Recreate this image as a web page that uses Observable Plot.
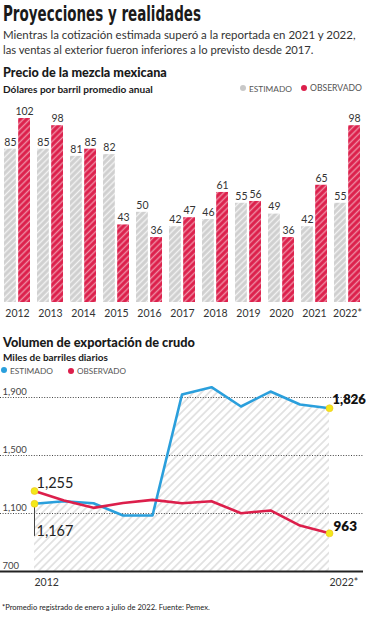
<!DOCTYPE html>
<html><head><meta charset="utf-8">
<script src="https://cdn.jsdelivr.net/npm/d3@7"></script>
<script src="https://cdn.jsdelivr.net/npm/@observablehq/plot@0.6"></script>
<style>
html,body{margin:0;padding:0;background:#fff}
body{width:366px;height:620px;position:relative;overflow:hidden;font-family:Lato,"Open Sans",sans-serif;color:#222}
.abs{position:absolute;white-space:nowrap}
.dot{display:inline-block;width:6px;height:6px;border-radius:50%;margin-right:3px;vertical-align:middle;position:relative;top:-1px}
#top,#bottom{position:absolute;left:0}
#top{top:95px}
#bottom{top:380px}
</style></head><body>
<svg width="0" height="0" style="position:absolute;left:0;top:0"><defs>
<pattern id="hatchGrey" patternUnits="userSpaceOnUse" width="4.5" height="4.5" patternTransform="rotate(45)">
<rect width="4.5" height="4.5" fill="#cfcfcf"/><line x1="2.25" y1="0" x2="2.25" y2="4.5" stroke="#fff" stroke-width="1.4" stroke-opacity="0.75"/></pattern>
<pattern id="hatchRed" patternUnits="userSpaceOnUse" width="4.5" height="4.5" patternTransform="rotate(45)">
<rect width="4.5" height="4.5" fill="#dc1f4b"/><line x1="2.25" y1="0" x2="2.25" y2="4.5" stroke="#fff" stroke-width="1.4" stroke-opacity="0.5"/></pattern>
<pattern id="hatchArea" patternUnits="userSpaceOnUse" width="5.5" height="5.5" patternTransform="rotate(45)">
<line x1="2.75" y1="0" x2="2.75" y2="5.5" stroke="#c4c4c4" stroke-width="0.9"/></pattern>
</defs></svg>
<div id="top"></div>
<div id="bottom"></div>
<script>
// ---- Data: precio de la mezcla mexicana ----
const years = ["2012","2013","2014","2015","2016","2017","2018","2019","2020","2021","2022*"];
const precioEstimado = [85, 85, 81, 82, 50, 42, 46, 55, 49, 42, 55];
const precioObservado = [102, 98, 85, 43, 36, 47, 61, 56, 36, 65, 98];

// ---- Data: volumen de exportación de crudo ----
const volYears = [2012, 2013, 2014, 2015, 2016, 2017, 2018, 2019, 2020, 2021, 2022];
const volYearLabels = ["2012", "2022*"];
const volEstimado = [1167, 1185, 1171, 1086, 1086, 1921, 1971, 1838, 1941, 1852, 1826];
const volObservado = [1255, 1190, 1139, 1172, 1194, 1171, 1185, 1102, 1121, 1017, 963];
const volTicks = [700, 1100, 1500, 1900];

const fmt = d3.format(",");

// ---- text helpers ----
function place(text, o) {
  const el = document.createElement("div");
  el.className = "abs";
  el.textContent = text;
  el.style.fontFamily = o.family || "Lato, 'Open Sans', sans-serif";
  el.style.fontWeight = o.weight || 400;
  el.style.color = o.color || "#222";
  el.style.left = o.x + "px";
  let fs = 12;
  el.style.fontSize = fs + "px";
  el.style.lineHeight = fs + "px";
  document.body.appendChild(el);
  if (o.width) {
    const w = el.getBoundingClientRect().width;
    fs = fs * o.width / w;
  } else if (o.size) fs = o.size;
  el.style.fontSize = fs + "px";
  el.style.lineHeight = fs + "px";
  el.style.top = (o.cy - 0.53 * fs) + "px";
  return el;
}

// Title (condensed)
{
  const el = document.createElement("div");
  el.className = "abs";
  el.textContent = "Proyecciones y realidades";
  el.style.fontFamily = "'Liberation Sans Narrow', 'DejaVu Sans Condensed', sans-serif";
  el.style.fontWeight = 700;
  el.style.fontSize = "22px";
  el.style.lineHeight = "22px";
  el.style.left = "3px";
  el.style.top = "3px";
  el.style.color = "#1a1a1a";
  el.style.transformOrigin = "0 0";
  document.body.appendChild(el);
  const w = el.getBoundingClientRect().width;
  el.style.transform = `scaleX(${198 / w})`;
}
place("Mientras la cotización estimada superó a la reportada en 2021 y 2022,", {x: 3, cy: 35, width: 353, color: "#333"});
place("las ventas al exterior fueron inferiores a lo previsto desde 2017.", {x: 3, cy: 50, width: 311, color: "#333"});
place("Precio de la mezcla mexicana", {x: 3, cy: 74, width: 164, weight: 900, color: "#1a1a1a"});
place("Dólares por barril promedio anual", {x: 3, cy: 89, width: 150, weight: 700, color: "#1a1a1a"});
place("Volumen de exportación de crudo", {x: 3, cy: 343, width: 192, weight: 900, color: "#1a1a1a"});
place("Miles de barriles diarios", {x: 3, cy: 357, width: 105, weight: 700, color: "#1a1a1a"});
place("*Promedio registrado de enero a julio de 2022. Fuente: Pemex.", {x: 2, cy: 608, width: 208, color: "#222"});

function legend(label, color, x, cy, width) {
  const el = place(label, {x, cy, width, color: "#555"});
  const d = document.createElement("span");
  d.className = "dot";
  d.style.background = color;
  el.insertBefore(d, el.firstChild);
  el.style.left = (x - 9) + "px";
}
legend("ESTIMADO", "#c8c8c8", 249, 89, 43);
legend("OBSERVADO", "#dc1f4b", 310, 89, 52);
legend("ESTIMADO", "#2a9fdc", 10, 371, 43);
legend("OBSERVADO", "#dc1f4b", 77, 371, 49);

// ---- Top chart: grouped bars ----
const topData = years.map((y, i) => ({year: y, est: precioEstimado[i], obs: precioObservado[i]}));
const xRange = [2, 363], pIn = 0.2;
const bw = (xRange[1] - xRange[0]) / (years.length - pIn) * (1 - pIn);
const half = bw / 2 + 0.8;
const barW = bw - half;
const off = half - bw / 2 + barW / 2; // center offset of each bar

const topChart = Plot.plot({
  width: 366, height: 230, margin: 0,
  style: {background: "transparent", fontFamily: "Lato, sans-serif"},
  x: {type: "band", domain: years, range: xRange, paddingInner: pIn, paddingOuter: 0, axis: null},
  y: {domain: [0, 102], range: [207, 23], axis: null},
  marks: [
    Plot.barY(topData, {x: "year", y: "est", fill: "url(#hatchGrey)", insetRight: half}),
    Plot.barY(topData, {x: "year", y: "obs", fill: "url(#hatchRed)", insetLeft: half}),
    Plot.text(topData, {x: "year", y: "est", text: d => d.est, dx: -off, dy: -7, fontSize: 10.5, fill: "#333"}),
    Plot.text(topData, {x: "year", y: "obs", text: d => d.obs, dx: off, dy: -7, fontSize: 10.5, fill: "#333"}),
    Plot.text(years, {x: d => d, y: () => 0, text: d => d, dy: 11, fontSize: 10.5, fill: "#333"})
  ]
});
document.getElementById("top").appendChild(topChart);

// ---- Bottom chart: lines ----
const volData = volYears.map((y, i) => ({year: y, est: volEstimado[i], obs: volObservado[i]}));
const first = volData[0], last = volData[volData.length - 1];
const botChart = Plot.plot({
  width: 366, height: 215, marginLeft: 0, marginRight: 3, marginTop: 0, marginBottom: 0,
  style: {background: "transparent", fontFamily: "Lato, sans-serif", overflow: "visible"},
  x: {domain: [volYears[0], volYears[volYears.length - 1]], range: [34, 329], axis: null},
  y: {domain: [700, 1900], range: [191, 17], axis: null},
  marks: [
    Plot.areaY(volData, {x: "year", y1: () => volTicks[0], y2: "est", fill: "url(#hatchArea)"}),
    Plot.ruleY(volTicks.slice(1), {stroke: "#444", strokeDasharray: "1,1.6", strokeWidth: 1}),
    Plot.ruleY([volTicks[0]], {stroke: "#222", strokeWidth: 2}),
    Plot.text(volTicks, {y: d => d, frameAnchor: "left", textAnchor: "start", dx: 2, dy: -6, text: d => fmt(d), fontSize: 9.5, fill: "#444"}),
    Plot.ruleX([first], {x: "year", y1: "est", y2: d => d.est - 225, stroke: "#444", strokeWidth: 1}),
    Plot.line(volData, {x: "year", y: "est", stroke: "#2a9fdc", strokeWidth: 2.6}),
    Plot.line(volData, {x: "year", y: "obs", stroke: "#dc1f4b", strokeWidth: 2.6}),
    Plot.dot([first, last], {x: "year", y: "est", r: 3.5, fill: "#f2e81a", stroke: "#f2c21a", strokeWidth: 0.6}),
    Plot.dot([first, last], {x: "year", y: "obs", r: 3.5, fill: "#f2e81a", stroke: "#f2c21a", strokeWidth: 0.6}),
    Plot.text([first], {x: "year", y: "obs", text: d => fmt(d.obs), textAnchor: "start", dx: 2, dy: -8, fontSize: 14.5, fill: "#222"}),
    Plot.text([first], {x: "year", y: "est", text: d => fmt(d.est), textAnchor: "start", dx: 2, dy: 28, fontSize: 14.5, fill: "#222"}),
    Plot.text([last], {x: "year", y: "est", text: d => fmt(d.est), textAnchor: "start", dx: 3, dy: -8, fontSize: 13, fontWeight: 800, fill: "#111"}),
    Plot.text([last], {x: "year", y: "obs", text: d => fmt(d.obs), textAnchor: "start", dx: 4, dy: -7, fontSize: 13.5, fontWeight: 800, fill: "#111"}),
    Plot.text(volYearLabels, {x: (d, i) => i === 0 ? volYears[0] : volYears[volYears.length - 1], y: () => volTicks[0], text: d => d, textAnchor: "start", dy: 11, fontSize: 10.5, fill: "#333"})
  ]
});
document.getElementById("bottom").appendChild(botChart);
</script>
</body></html>
